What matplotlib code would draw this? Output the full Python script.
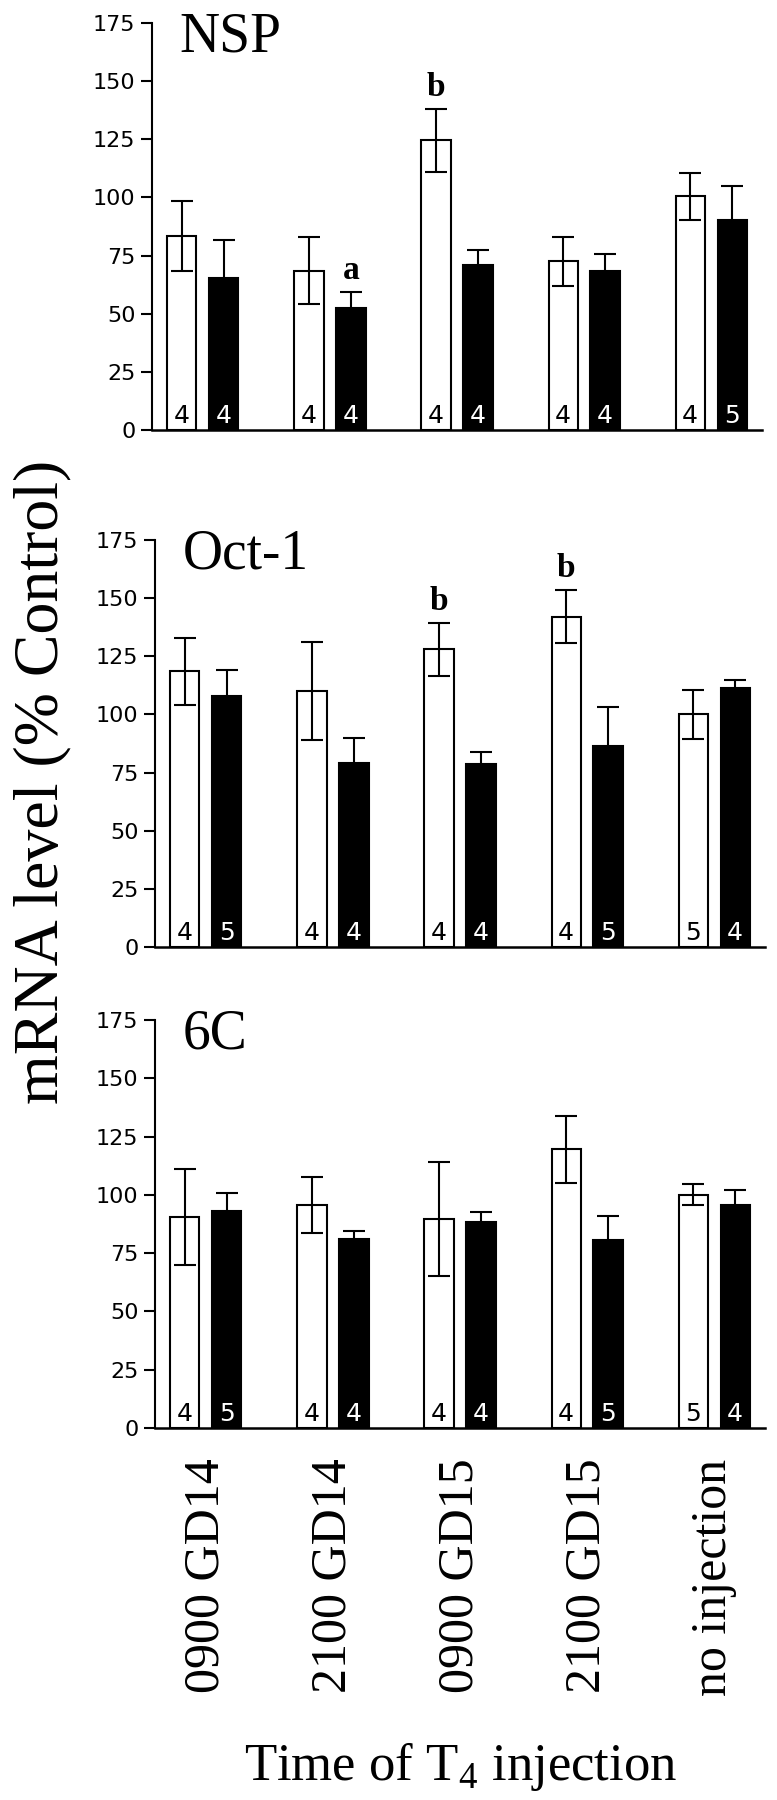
import numpy as np
import matplotlib.pyplot as plt

plt.rcParams['font.family'] = ['Liberation Serif', 'DejaVu Serif']
plt.rcParams['mathtext.fontset'] = 'custom'
plt.rcParams['mathtext.rm'] = 'Liberation Serif'

SERIF = 'Liberation Serif'
SANS = 'DejaVu Sans'

groups = ['0900 GD14', '2100 GD14', '0900 GD15', '2100 GD15', 'no injection']

# NSP
nsp_white = [83.5, 68.5, 124.5, 72.5, 100.5]
nsp_white_err = [15, 14.5, 13.5, 10.5, 10]
nsp_black = [65.5, 52.5, 71, 68.5, 90.5]
nsp_black_err = [16, 7, 6.5, 7, 14.5]
nsp_n_white = [4, 4, 4, 4, 4]
nsp_n_black = [4, 4, 4, 4, 5]
nsp_marks_white = ['', '', 'b', '', '']
nsp_marks_black = ['', 'a', '', '', '']

# Oct-1
oct_white = [118.5, 110, 128, 142, 100]
oct_white_err = [14.5, 21, 11.5, 11.5, 10.5]
oct_black = [108, 79, 78.5, 86.5, 111.5]
oct_black_err = [11, 11, 5.5, 16.5, 3.5]
oct_n_white = [4, 4, 4, 4, 5]
oct_n_black = [5, 4, 4, 5, 4]
oct_marks_white = ['', '', 'b', 'b', '']
oct_marks_black = ['', '', '', '', '']

# 6C
c6_white = [90.5, 95.5, 89.5, 119.5, 100]
c6_white_err = [20.5, 12, 24.5, 14.5, 4.5]
c6_black = [93, 81, 88.5, 80.5, 95.5]
c6_black_err = [8, 3.5, 4, 10.5, 6.5]
c6_n_white = [4, 4, 4, 4, 5]
c6_n_black = [5, 4, 4, 5, 4]
c6_marks_white = ['', '', '', '', '']
c6_marks_black = ['', '', '', '', '']

panels = [
    ('NSP', nsp_white, nsp_white_err, nsp_black, nsp_black_err,
     nsp_n_white, nsp_n_black, nsp_marks_white, nsp_marks_black),
    ('Oct-1', oct_white, oct_white_err, oct_black, oct_black_err,
     oct_n_white, oct_n_black, oct_marks_white, oct_marks_black),
    ('6C', c6_white, c6_white_err, c6_black, c6_black_err,
     c6_n_white, c6_n_black, c6_marks_white, c6_marks_black),
]

# axes boxes in figure fractions (left, bottom, width, height)
boxes = [
    (152 / 777, 1 - 430 / 1800, 610 / 777, 407 / 1800),
    (155 / 777, 1 - 947 / 1800, 610 / 777, 407 / 1800),
    (155 / 777, 1 - 1428 / 1800, 610 / 777, 408 / 1800),
]

fig = plt.figure(figsize=(7.77, 18), dpi=100)

x = np.arange(len(groups))
width = 0.23
off = 0.165

for i, (name, w, we, b, be, nw, nb, mw, mb) in enumerate(panels):
    ax = fig.add_axes(boxes[i])
    ax.bar(x - off, w, width, color='white', edgecolor='black', linewidth=1.5, zorder=2)
    ax.bar(x + off, b, width, color='black', edgecolor='black', linewidth=1.5, zorder=2)
    ax.errorbar(x - off, w, yerr=we, fmt='none', ecolor='black', elinewidth=1.5,
                capsize=8, capthick=1.5, zorder=3)
    ax.errorbar(x + off, b, yerr=be, fmt='none', ecolor='black', elinewidth=1.5,
                capsize=8, capthick=1.5, zorder=3)

    for j in range(len(groups)):
        ax.text(x[j] - off, 0.8, str(nw[j]), ha='center', va='bottom',
                fontsize=18, fontfamily=SANS, color='black', zorder=4)
        ax.text(x[j] + off, 0.8, str(nb[j]), ha='center', va='bottom',
                fontsize=18, fontfamily=SANS, color='white', zorder=4)
        if mw[j]:
            ax.text(x[j] - off, w[j] + we[j] + 2.5, mw[j], ha='center', va='bottom',
                    fontsize=24, fontweight='bold')
        if mb[j]:
            ax.text(x[j] + off, b[j] + be[j] + 2.5, mb[j], ha='center', va='bottom',
                    fontsize=24, fontweight='bold')

    ax.text(0.045, 0.93, name, transform=ax.transAxes, ha='left', va='baseline',
            fontsize=40)

    ax.set_xlim(-0.40, 4.40)
    ax.set_ylim(0, 175)
    ax.set_yticks(np.arange(0, 176, 25))
    ax.tick_params(axis='y', length=8, width=1.5, labelsize=16, pad=4)
    for lab in ax.get_yticklabels():
        lab.set_fontfamily(SANS)
    ax.spines['top'].set_visible(False)
    ax.spines['right'].set_visible(False)
    ax.spines['left'].set_linewidth(1.5)
    ax.spines['bottom'].set_linewidth(1.8)
    if i < 2:
        ax.set_xticks([])
    else:
        ax.set_xticks(x)
        ax.set_xticklabels(groups, rotation=90, fontsize=36)
        ax.tick_params(axis='x', length=0, pad=22)

fig.text(0.054, 1 - 782 / 1800, 'mRNA level (% Control)', rotation=90,
         ha='center', va='center', fontsize=46)
fig.text(0.593, 1 - 1780 / 1800, 'Time of T$_\\mathregular{4}$ injection',
         ha='center', va='baseline', fontsize=38)

fig.savefig('out.png', dpi=100)
